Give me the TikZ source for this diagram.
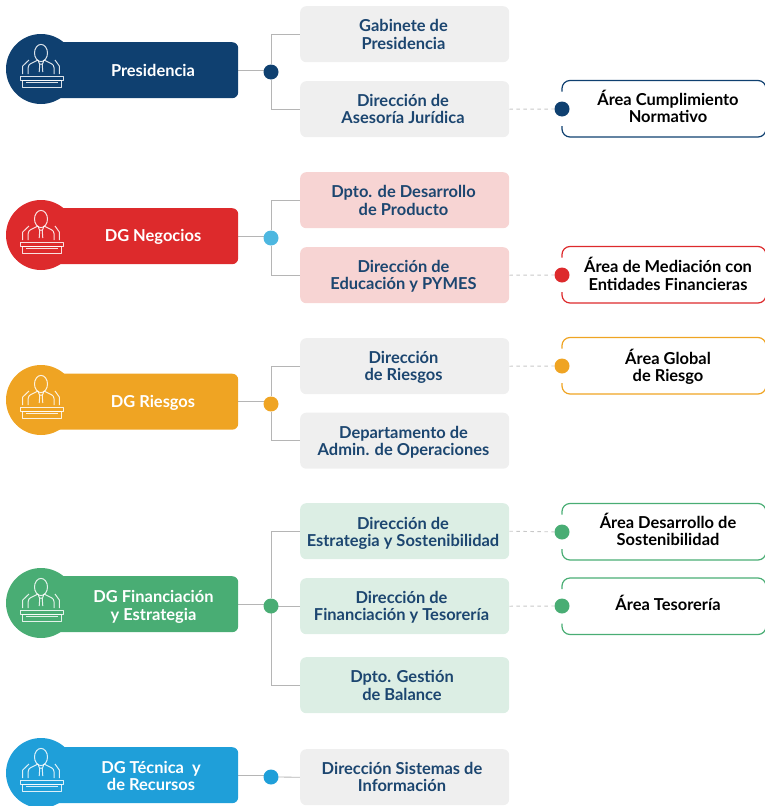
\documentclass[tikz,border=0pt]{standalone}
\usepackage{fontspec}
\setmainfont{Lato}
\usetikzlibrary{backgrounds}
\definecolor{navy}{HTML}{0F4070}
\definecolor{dgred}{HTML}{DD2A2C}
\definecolor{dgorange}{HTML}{EFA423}
\definecolor{dggreen}{HTML}{49AD74}
\definecolor{dgblue}{HTML}{1F9FD9}
\definecolor{hubblue}{HTML}{4DB7E0}
\definecolor{txtnavy}{HTML}{1C4670}
\definecolor{boxgray}{HTML}{EFEFEF}
\definecolor{boxpink}{HTML}{F7D4D3}
\definecolor{boxgreen}{HTML}{DCEEE4}
\definecolor{linegray}{HTML}{B5B5B5}
\definecolor{dashgray}{HTML}{C8C8C8}
\tikzset{
  txt/.style={font=\fontsize{16.45}{17.4}\selectfont\bfseries,align=center,inner sep=0pt},
  bar/.style={fill=#1,rounded corners=6pt,minimum width=198pt,minimum height=56pt,inner sep=0pt,anchor=north west},
  disc/.style={circle,fill=#1,minimum size=70pt,inner sep=0pt},
  bartext/.style={txt,text=white},
  unit/.style={fill=#1,rounded corners=6pt,minimum width=209pt,minimum height=56pt,inner sep=0pt,anchor=north west},
  unittext/.style={txt,text=txtnavy},
  areatext/.style={txt,text=black},
  hub/.style={circle,fill=#1,minimum size=15pt,inner sep=0pt},
  branch/.style={draw=linegray,line width=0.8pt},
  dashlink/.style={draw=dashgray,line width=0.9pt,dash pattern=on 3.5pt off 3.5pt},
  outline/.style={draw=#1,line width=1.2pt,rounded corners=8pt},
  iconline/.style={draw=white,line width=1pt,opacity=.85,line join=round},
  speaker/.pic={
    \draw[iconline] (0,-16) ellipse (6.5 and 8.6);
    \draw[iconline] (-12.8,5) -- (-12.8,-1.5) .. controls (-12.8,-5) and (-9,-6) .. (-6,-7.5) -- (-3,-9);
    \draw[iconline] (13,5) -- (13,-1.5) .. controls (13,-5) and (9,-6) .. (6,-7.5) -- (3,-9);
    \draw[iconline] (-3,-9) -- (-1.5,-5) -- (1.5,-5) -- (3,-9);
    \draw[iconline] (-1.2,-5) -- (-1.8,3) (1.2,-5) -- (1.8,3);
    \draw[iconline] (-18.3,5) -- (-18.3,-3) -- (-12,-9);
    \draw[iconline] (18.3,5) -- (18.3,-3) -- (14,-9);
    \draw[iconline] (-20.5,7) rectangle (22,11);
    \draw[iconline] (-19,11) rectangle (20.5,18.5);
    \draw[iconline] (-15,13.5) -- (17,13.5);
  }
}
\newcommand{\AreaFrame}[4]{% node, top, bottom, colour
  \draw[outline=#4] (562,#2+11) -- (562,#2) -- (766,#2) -- (766,#3) -- (562,#3) -- (562,#3-11);
}
\begin{document}
\begin{tikzpicture}[x=1pt,y=-1pt]
\useasboundingbox (0,0) rectangle (765,806);
% ---- Presidencia
\node[bar=navy] (b1) at (40,42) {};
\node[disc=navy] (c1) at (41,69) {};
\pic at (41,69) {speaker};
\node[bartext] (t1) at (153,70.5) {Presidencia};
\node[hub=navy] (h1) at (271,72) {};
\node[unit=boxgray] (u11) at (300,6) {};
\node[unittext] (x11) at (403.5,34.5) {Gabinete de\\Presidencia};
\node[unit=boxgray] (u12) at (300,81) {};
\node[unittext] (x12) at (403,109) {Dirección de\\Asesoría Jurídica};
\node[hub=navy] (d1) at (562,109) {};
\AreaFrame{a1}{80.5}{137}{navy}
\node[areatext] (a1) at (668,106.2) {Área Cumplimiento\\Normativo};
% ---- Negocios
\node[bar=dgred] (b2) at (40,208) {};
\node[disc=dgred] (c2) at (41,235) {};
\pic at (41,235) {speaker};
\node[bartext] (t2) at (153,237.3) {DG Negocios};
\node[hub=hubblue] (h2) at (271,238) {};
\node[unit=boxpink] (u21) at (300,172) {};
\node[unittext] (x21) at (403.5,200.5) {Dpto. de Desarrollo\\de Producto};
\node[unit=boxpink] (u22) at (300,247) {};
\node[unittext] (x22) at (403.5,276) {Dirección de\\Educación y PYMES};
\node[hub=dgred] (d2) at (562,275) {};
\AreaFrame{a2}{246.5}{303}{dgred}
\node[areatext] (a2) at (668,274) {Área de Mediación con\\Entidades Financieras};
% ---- Riesgos
\node[bar=dgorange] (b3) at (40,373.5) {};
\node[disc=dgorange] (c3) at (41,400) {};
\pic at (41,400) {speaker};
\node[bartext] (t3) at (153,403.3) {DG Riesgos};
\node[hub=dgorange] (h3) at (271,404) {};
\node[unit=boxgray] (u31) at (300,338) {};
\node[unittext] (x31) at (403.5,367.5) {Dirección\\de Riesgos};
\node[unit=boxgray] (u32) at (300,412.5) {};
\node[unittext] (x32) at (403.5,442.2) {Departamento de\\Admin. de Operaciones};
\node[hub=dgorange] (d3) at (562,366) {};
\AreaFrame{a3}{337.5}{394}{dgorange}
\node[areatext] (a3) at (668,367) {Área Global\\de Riesgo};
% ---- Financiacion
\node[bar=dggreen] (b4) at (40,576) {};
\node[disc=dggreen] (c4) at (41,603) {};
\pic at (41,603) {speaker};
\node[bartext] (t4) at (153.5,607) {DG Financiación\\y Estrategia};
\node[hub=dggreen] (h4) at (271,606) {};
\node[unit=boxgreen] (u41) at (300,503) {};
\node[unittext] (x41) at (403,533.3) {Dirección de\\Estrategia y Sostenibilidad};
\node[unit=boxgreen] (u42) at (300,578) {};
\node[unittext] (x42) at (401.5,607.2) {Dirección de\\Financiación y Tesorería};
\node[unit=boxgreen] (u43) at (300,657) {};
\node[unittext] (x43) at (402,685.5) {Dpto. Gestión\\de Balance};
\node[hub=dggreen] (d4) at (562,532) {};
\AreaFrame{a4}{503.5}{560}{dggreen}
\node[areatext] (a4) at (668,529.2) {Área Desarrollo de\\Sostenibilidad};
\node[hub=dggreen] (d5) at (562,606) {};
\AreaFrame{a5}{578}{634.5}{dggreen}
\node[areatext] (a5) at (668,603.2) {Área Tesorería};
% ---- Tecnica
\node[bar=dgblue] (b5) at (40,747) {};
\node[disc=dgblue] (c5) at (41,773) {};
\pic at (41,773) {speaker};
\node[bartext] (t5) at (151,776) {DG Técnica\ \ y\\de Recursos};
\node[hub=dgblue] (h5) at (271,777) {};
\node[unit=boxgray] (u51) at (300,749) {};
\node[unittext] (x51) at (402,777) {Dirección Sistemas de\\Información};
% ---- connectors
\begin{pgfonlayer}{background}
\draw[branch] (b1.east) -- (b1.east -| h1);
\draw[branch] (h1) |- (u11.west);
\draw[branch] (h1) |- (u12.west);
\draw[dashlink] (u12.east) -- (d1);
\draw[branch] (b2.east) -- (b2.east -| h2);
\draw[branch] (h2) |- (u21.west);
\draw[branch] (h2) |- (u22.west);
\draw[dashlink] (u22.east) -- (d2);
\draw[branch] (b3.east) -- (b3.east -| h3);
\draw[branch] (h3) |- (u31.west);
\draw[branch] (h3) |- (u32.west);
\draw[dashlink] (u31.east) -- (d3);
\draw[branch] (b4.east) -- (b4.east -| h4);
\draw[branch] (h4) |- (u41.west);
\draw[branch] (h4) |- (u42.west);
\draw[branch] (h4) |- (u43.west);
\draw[dashlink] (u41.east) -- (d4);
\draw[dashlink] (u42.east) -- (d5);
\draw[branch] (b5.east) -- (b5.east -| h5);
\draw[branch] (h5) -- (u51.west);
\end{pgfonlayer}
\end{tikzpicture}
\end{document}
